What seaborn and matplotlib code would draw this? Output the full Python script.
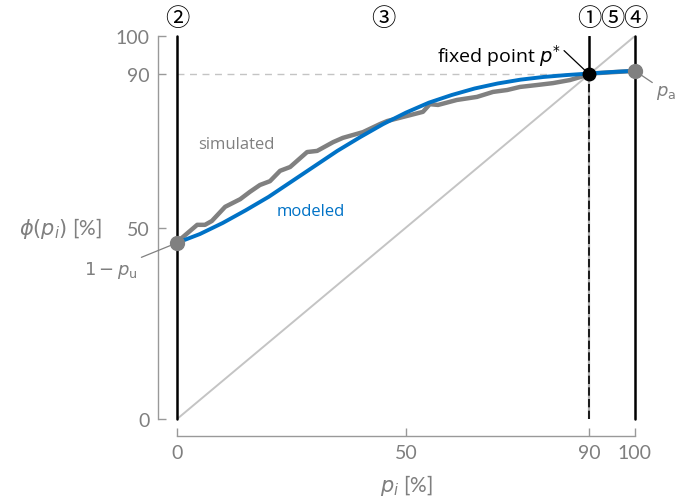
import numpy as np
import pandas as pd
import matplotlib
matplotlib.use("Agg")
import matplotlib.pyplot as plt
import seaborn as sns

# data
sim_p = [0, 4.4, 6.1, 7.6, 10.5, 13.8, 15.9, 18.1, 20.3, 22.5, 24.7, 28.4, 30.6, 34.1, 36.2,
         40.6, 44.3, 45.9, 53.7, 55.2, 57.0, 61.1, 65.5, 69.0, 72.1, 74.9, 78.6, 82.1, 85.8,
         89.5, 90.2, 100]
sim_phi = [46.2, 50.7, 50.7, 51.7, 55.4, 57.4, 59.3, 61.1, 62.1, 64.8, 65.8, 69.7, 70.0, 72.3,
           73.4, 74.9, 77.0, 77.8, 80.2, 82.2, 82.0, 83.3, 84.1, 85.4, 85.9, 86.7, 87.2, 87.7,
           88.5, 89.8, 90.2, 90.9]
mod_p = [0, 5, 10, 15, 20, 25, 30, 35, 40, 45, 50, 55, 60, 65, 70, 75, 80, 85, 90, 95, 100]
mod_phi = [46.0, 48.3, 51.2, 54.5, 58.0, 62.0, 66.0, 70.0, 73.6, 77.0, 80.0, 82.6, 84.6, 86.3,
           87.6, 88.6, 89.3, 89.8, 90.2, 90.6, 90.9]
p_u_val = 46.0
p_a_val = 90.9
fixed_pt = 90
xticks = [0, 50, 90, 100]
yticks = [0, 50, 90, 100]
region_labels = ["②", "③", "①", "⑤", "④"]
region_x = [0, 45, 90, 95, 100]

sns.set_theme(style="white")
plt.rcParams['font.family'] = ['Lato', 'DejaVu Sans']
plt.rcParams['mathtext.fontset'] = 'dejavusans'

blue = "#0072C6"
gray = "#808080"
txt = "#7f7f7f"

fig = plt.figure(figsize=(6.97, 5.02), dpi=100)
ax = fig.add_axes([0.254, 0.1633, 0.657, 0.763])

# guide lines
ax.plot([0, 100], [0, 100], color="#c4c4c4", lw=1.4, zorder=1)
ax.plot([0, fixed_pt], [fixed_pt, fixed_pt], color="#c4c4c4", lw=1.0, ls=(0, (5, 4)), zorder=1)
ax.plot([0, 0], [0, 100], color="black", lw=1.8, zorder=2, clip_on=False)
ax.plot([100, 100], [0, 100], color="black", lw=1.8, zorder=2, clip_on=False)
ax.plot([fixed_pt, fixed_pt], [fixed_pt, 100], color="black", lw=1.8, zorder=2)
ax.plot([fixed_pt, fixed_pt], [0, fixed_pt], color="#b0b0b0", lw=1.6, zorder=2)
ax.plot([fixed_pt, fixed_pt], [0, fixed_pt], color="black", lw=1.2, ls=(0, (5, 2)), zorder=2)

sim = pd.DataFrame({"p": sim_p, "phi": sim_phi})
mod = pd.DataFrame({"p": mod_p, "phi": mod_phi})
sns.lineplot(data=sim, x="p", y="phi", color=gray, lw=3.2, ax=ax, zorder=3, sort=False)
sns.lineplot(data=mod, x="p", y="phi", color=blue, lw=2.8, ax=ax, zorder=4, sort=False)

ax.plot([0], [p_u_val], "o", color=gray, ms=10, clip_on=False, zorder=5)
ax.plot([100], [p_a_val], "o", color=gray, ms=10, clip_on=False, zorder=5)
ax.plot([fixed_pt], [fixed_pt], "o", color="black", ms=9, clip_on=False, zorder=6)

ax.set_xlim(0, 100)
ax.set_ylim(0, 100)
sns.despine(ax=ax)
ax.spines['left'].set_position(('outward', 14))
ax.spines['bottom'].set_position(('outward', 12))
ax.spines['left'].set_bounds(0, 100)
ax.spines['bottom'].set_bounds(0, 100)
for s in ['left', 'bottom']:
    ax.spines[s].set_color("#999999")
    ax.spines[s].set_linewidth(1.0)
ax.set_xticks(xticks)
ax.set_yticks(yticks)
ax.tick_params(axis='both', direction='in', length=6, width=1.0, color="#999999",
               labelcolor=txt, labelsize=14, pad=6, left=True, bottom=True)

ax.set_xlabel(r"$p_i$ [%]", fontsize=15, color=txt, labelpad=8)
ax.set_ylabel(r"$\phi(p_i)$ [%]", fontsize=15, color=txt, rotation=0, ha="right", va="center")
ax.yaxis.set_label_coords(-0.165, 0.5)

for lab, xv in zip(region_labels, region_x):
    ax.text(xv, 104.8, lab, ha="center", va="center", fontsize=17.5, color="black",
            family=['Noto Sans CJK JP', 'DejaVu Sans'], clip_on=False)

ax.text(4.6, 71.9, "simulated", fontsize=12, color=gray, family=['Open Sans'], va="center")
ax.text(21.8, 54.4, "modeled", fontsize=12, color=blue, family=['Open Sans'], va="center")

ax.annotate(r"fixed point $p^{*}$", xy=(fixed_pt, fixed_pt), xytext=(83.8, 93.2),
            ha="right", va="baseline", fontsize=14, color="black", family=['Open Sans'],
            arrowprops=dict(arrowstyle="-", color="black", lw=0.9, shrinkA=0, shrinkB=0,
                            relpos=(1.0, 0.8)),
            annotation_clip=False)
ax.annotate(r"$1 - p_{\mathrm{u}}$", xy=(0, p_u_val), xytext=(-8.5, 39),
            ha="right", va="center", fontsize=13, color=txt,
            arrowprops=dict(arrowstyle="-", color=gray, lw=0.9, shrinkA=0, shrinkB=0),
            annotation_clip=False)
ax.annotate(r"$p_{\mathrm{a}}$", xy=(100, p_a_val), xytext=(104.5, 85.5),
            ha="left", va="center", fontsize=13, color=txt,
            arrowprops=dict(arrowstyle="-", color=gray, lw=0.9, shrinkA=0, shrinkB=0),
            annotation_clip=False)

fig.savefig("out.png", dpi=100)
